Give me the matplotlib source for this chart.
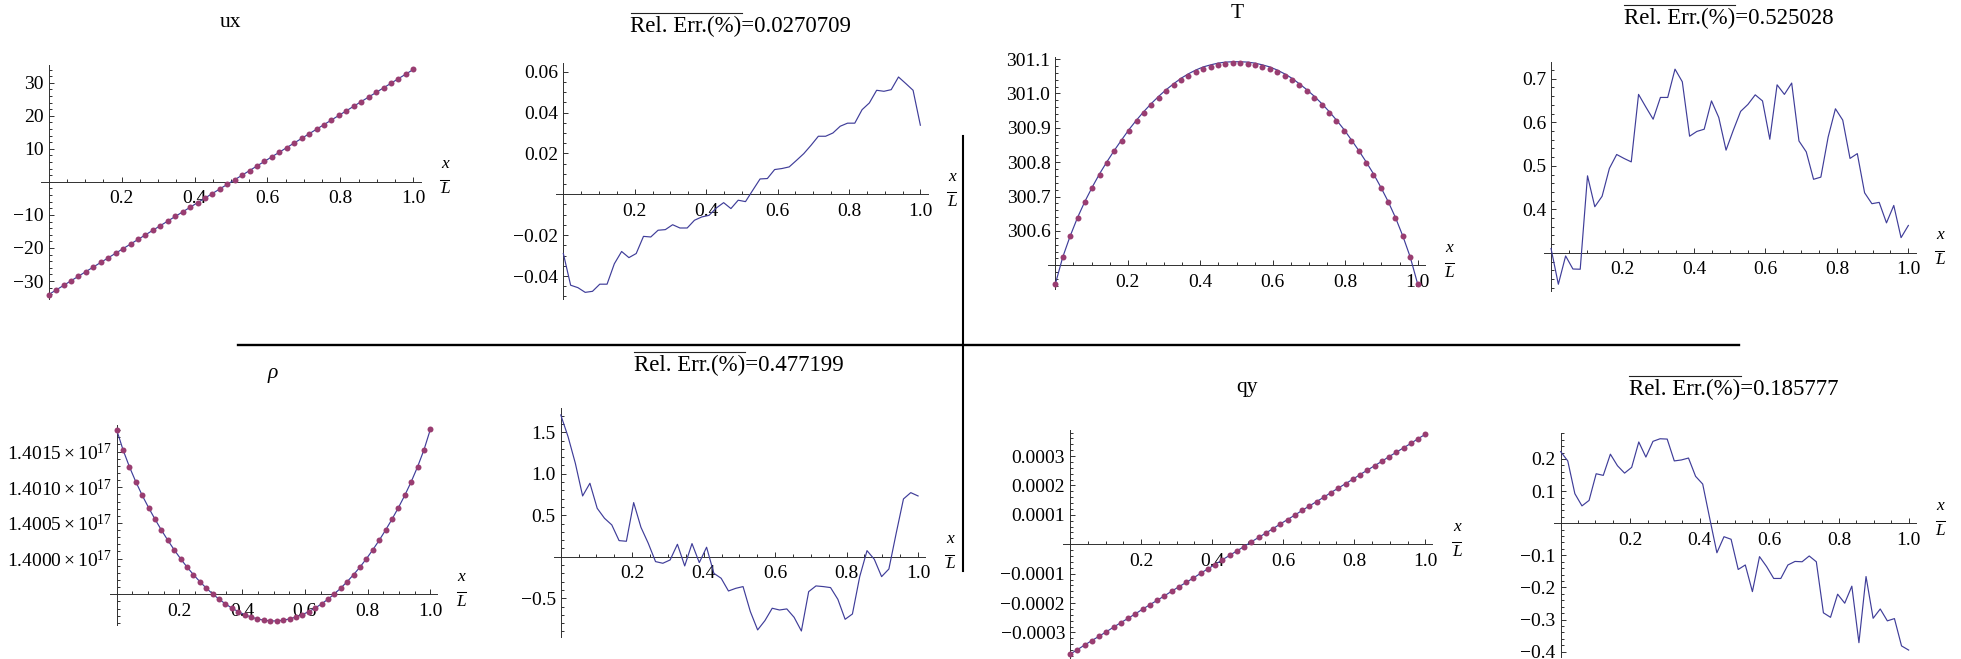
import numpy as np
import matplotlib
matplotlib.use("Agg")
import matplotlib.pyplot as plt
from matplotlib.ticker import FixedLocator, FixedFormatter, MultipleLocator
from matplotlib.lines import Line2D

plt.rcParams["font.family"] = ["Liberation Serif", "DejaVu Serif"]
plt.rcParams["mathtext.fontset"] = "custom"
plt.rcParams["mathtext.rm"] = "Liberation Serif"
plt.rcParams["mathtext.it"] = "Liberation Serif:italic"
plt.rcParams["mathtext.bf"] = "Liberation Serif:bold"

# ---------------------------------------------------------------- data
x_over_L = np.linspace(0.0, 1.0, 50)          # sampling positions x/L

ux_sim = [-34.10, -32.71, -31.32, -29.93, -28.54, -27.15, -25.76, -24.37, -22.98, -21.59,
          -20.20, -18.81, -17.42, -16.03, -14.64, -13.25, -11.86, -10.47, -9.08, -7.69,
          -6.30, -4.91, -3.52, -2.13, -0.74, 0.65, 2.04, 3.43, 4.82, 6.21,
          7.60, 8.99, 10.38, 11.77, 13.16, 14.55, 15.94, 17.33, 18.72, 20.11,
          21.50, 22.89, 24.28, 25.67, 27.06, 28.45, 29.84, 31.23, 32.62, 34.01]

ux_err = [-0.0290, -0.0445, -0.0457, -0.0480, -0.0475, -0.0440, -0.0440, -0.0340, -0.0280, -0.0310,
          -0.0290, -0.0206, -0.0209, -0.0176, -0.0173, -0.0149, -0.0165, -0.0165, -0.0127, -0.0111,
          -0.0103, -0.0067, -0.0041, -0.0070, -0.0029, -0.0036, 0.0020, 0.0075, 0.0077, 0.0121,
          0.0126, 0.0134, 0.0166, 0.0199, 0.0240, 0.0284, 0.0284, 0.0300, 0.0333, 0.0348,
          0.0348, 0.0414, 0.0447, 0.0509, 0.0504, 0.0512, 0.0574, 0.0542, 0.0509, 0.0338]

T_sim = [300.446, 300.523, 300.584, 300.637, 300.684, 300.726, 300.764, 300.799, 300.832, 300.863,
         300.892, 300.919, 300.944, 300.967, 300.988, 301.007, 301.024, 301.039, 301.052, 301.063,
         301.072, 301.078, 301.083, 301.086, 301.087, 301.087, 301.086, 301.083, 301.078, 301.072,
         301.063, 301.052, 301.039, 301.024, 301.007, 300.988, 300.967, 300.944, 300.919, 300.892,
         300.863, 300.832, 300.799, 300.764, 300.726, 300.684, 300.637, 300.584, 300.523, 300.446]

T_ref = [300.446, 300.524, 300.585, 300.639, 300.686, 300.728, 300.767, 300.802, 300.835, 300.866,
         300.896, 300.923, 300.948, 300.971, 300.992, 301.011, 301.028, 301.044, 301.057, 301.068,
         301.077, 301.083, 301.088, 301.091, 301.092, 301.092, 301.091, 301.088, 301.083, 301.077,
         301.068, 301.057, 301.044, 301.028, 301.011, 300.992, 300.971, 300.948, 300.923, 300.896,
         300.866, 300.835, 300.802, 300.767, 300.728, 300.686, 300.639, 300.585, 300.524, 300.446]

T_err = [0.310, 0.228, 0.293, 0.263, 0.2625, 0.477, 0.406, 0.430, 0.494, 0.526,
         0.517, 0.509, 0.664, 0.635, 0.607, 0.657, 0.657, 0.722, 0.693, 0.568,
         0.579, 0.584, 0.649, 0.611, 0.536, 0.582, 0.625, 0.641, 0.663, 0.649,
         0.561, 0.686, 0.664, 0.690, 0.557, 0.532, 0.469, 0.474, 0.566, 0.631,
         0.605, 0.517, 0.528, 0.438, 0.413, 0.416, 0.369, 0.409, 0.335, 0.363]

# density in units of 1e17
rho_sim = [1.401804, 1.401523, 1.401285, 1.401075, 1.400885, 1.400712, 1.400550, 1.400398, 1.400255, 1.400121,
           1.399996, 1.399880, 1.399774, 1.399676, 1.399586, 1.399504, 1.399430, 1.399364, 1.399306, 1.399256,
           1.399214, 1.399180, 1.399154, 1.399136, 1.399126, 1.399126, 1.399136, 1.399154, 1.399180, 1.399214,
           1.399256, 1.399306, 1.399364, 1.399430, 1.399504, 1.399586, 1.399676, 1.399774, 1.399880, 1.399996,
           1.400121, 1.400255, 1.400398, 1.400550, 1.400712, 1.400885, 1.401075, 1.401285, 1.401523, 1.401810]

rho_err = [1.709, 1.448, 1.127, 0.733, 0.886, 0.584, 0.464, 0.384, 0.195, 0.187,
           0.653, 0.355, 0.163, -0.058, -0.078, -0.038, 0.151, -0.110, 0.159, -0.070,
           0.115, -0.199, -0.259, -0.412, -0.380, -0.359, -0.660, -0.881, -0.769, -0.620,
           -0.641, -0.628, -0.729, -0.894, -0.420, -0.351, -0.359, -0.371, -0.512, -0.753,
           -0.689, -0.239, 0.074, -0.030, -0.239, -0.147, 0.283, 0.697, 0.773, 0.733]

qy_sim = np.array([-3.74, -3.59, -3.43, -3.28, -3.13, -2.98, -2.82, -2.67, -2.52, -2.37,
                   -2.21, -2.06, -1.91, -1.76, -1.60, -1.45, -1.30, -1.15, -0.99, -0.84,
                   -0.69, -0.53, -0.38, -0.23, -0.08, 0.08, 0.23, 0.38, 0.53, 0.69,
                   0.84, 0.99, 1.15, 1.30, 1.45, 1.60, 1.76, 1.91, 2.06, 2.21,
                   2.37, 2.52, 2.67, 2.82, 2.98, 3.13, 3.28, 3.43, 3.59, 3.74]) * 1e-4

qy_err = [0.223, 0.194, 0.092, 0.054, 0.071, 0.154, 0.149, 0.215, 0.179, 0.156,
          0.174, 0.253, 0.206, 0.255, 0.263, 0.262, 0.194, 0.197, 0.203, 0.146,
          0.122, 0.014, -0.092, -0.042, -0.050, -0.144, -0.130, -0.213, -0.104, -0.135,
          -0.172, -0.172, -0.130, -0.119, -0.120, -0.102, -0.120, -0.279, -0.293, -0.221,
          -0.249, -0.196, -0.372, -0.166, -0.296, -0.267, -0.304, -0.297, -0.382, -0.395]

mean_rel_err = ["0.0270709", "0.525028", "0.477199", "0.185777"]

x_tick_vals = [0.2, 0.4, 0.6, 0.8, 1.0]
x_tick_labels = ["0.2", "0.4", "0.6", "0.8", "1.0"]

MINUS = "\u2212"
ux_ticks = [-30, -20, -10, 10, 20, 30]
ux_labels = [MINUS + "30", MINUS + "20", MINUS + "10", "10", "20", "30"]
uxe_ticks = [-0.04, -0.02, 0.02, 0.04, 0.06]
uxe_labels = [MINUS + "0.04", MINUS + "0.02", "0.02", "0.04", "0.06"]
T_ticks = [300.6, 300.7, 300.8, 300.9, 301.0, 301.1]
T_labels = ["300.6", "300.7", "300.8", "300.9", "301.0", "301.1"]
Te_ticks = [0.4, 0.5, 0.6, 0.7]
Te_labels = ["0.4", "0.5", "0.6", "0.7"]
rho_ticks = [1.4000, 1.4005, 1.4010, 1.4015]
rho_labels = [r"$1.4000\times10^{17}$", r"$1.4005\times10^{17}$",
              r"$1.4010\times10^{17}$", r"$1.4015\times10^{17}$"]
rhoe_ticks = [-0.5, 0.5, 1.0, 1.5]
rhoe_labels = [MINUS + "0.5", "0.5", "1.0", "1.5"]
qy_ticks = [-0.0003, -0.0002, -0.0001, 0.0001, 0.0002, 0.0003]
qy_labels = [MINUS + "0.0003", MINUS + "0.0002", MINUS + "0.0001", "0.0001", "0.0002", "0.0003"]
qye_ticks = [-0.4, -0.3, -0.2, -0.1, 0.1, 0.2]
qye_labels = [MINUS + "0.4", MINUS + "0.3", MINUS + "0.2", MINUS + "0.1", "0.1", "0.2"]

# ---------------------------------------------------------------- figure
W, H = 1961, 659
fig = plt.figure(figsize=(W / 100, H / 100), dpi=100)
fig.patch.set_facecolor("white")

LINE_C = "#3f3d99"
DOT_C = "#993d71"
AXIS_C = "#303030"
TICK_FS = 14


def fx(px):
    return px / W


def fy(py):
    return 1 - py / H


def panel(rect, ylim, y0, yticks, ylabels, yminor):
    left, top, width, height = rect
    ax = fig.add_axes([fx(left), fy(top + height), width / W, height / H])
    ax.set_xlim(-0.02, 1.02)
    ax.set_ylim(*ylim)
    ax.patch.set_visible(False)
    ax.spines["top"].set_visible(False)
    ax.spines["right"].set_visible(False)
    ax.spines["left"].set_position(("data", 0.0))
    ax.spines["bottom"].set_position(("data", y0))
    for s in ("left", "bottom"):
        ax.spines[s].set_color(AXIS_C)
        ax.spines[s].set_linewidth(0.7)
    ax.xaxis.set_major_locator(FixedLocator(x_tick_vals))
    ax.xaxis.set_major_formatter(FixedFormatter(x_tick_labels))
    ax.xaxis.set_minor_locator(MultipleLocator(0.05))
    ax.yaxis.set_major_locator(FixedLocator(yticks))
    ax.yaxis.set_major_formatter(FixedFormatter(ylabels))
    ax.yaxis.set_minor_locator(MultipleLocator(yminor))
    ax.tick_params(which="both", direction="in", color=AXIS_C, width=0.7)
    ax.tick_params(which="major", length=3.4)
    ax.tick_params(which="minor", length=2.0)
    ax.tick_params(axis="x", which="major", labelsize=TICK_FS, pad=6)
    ax.tick_params(axis="y", which="major", labelsize=TICK_FS, pad=3.6)

    # x/L fraction at the right end of the horizontal axis
    axis_right = left + width
    axis_y = top + (ylim[1] - y0) / (ylim[1] - ylim[0]) * height
    cx = axis_right + 24.4
    bar_y = axis_y - 2
    fig.text(fx(cx), fy(bar_y - 11.7), "x", ha="center", va="baseline",
             fontsize=12.5, style="italic")
    fig.text(fx(cx), fy(bar_y + 13.6), "L", ha="center", va="baseline",
             fontsize=12.5, style="italic")
    fig.add_artist(Line2D([fx(cx - 4.5), fx(cx + 4.5)], [fy(bar_y), fy(bar_y)],
                          transform=fig.transFigure, color="black", lw=0.75))
    return ax


def curve_with_dots(ax, ref, sim):
    ax.plot(x_over_L, ref, color=LINE_C, lw=0.85, zorder=3, clip_on=False)
    ax.plot(x_over_L, sim, "o", ms=4.3, color=DOT_C, mec="none", zorder=4, clip_on=False)


def error_curve(ax, err):
    ax.plot(x_over_L, err, color=LINE_C, lw=0.85, zorder=3, clip_on=False)


# top row
ax1 = panel((41.4, 65.0, 379.2, 234.1), (-35.462, 35.362), 0.0, ux_ticks, ux_labels, 2)
curve_with_dots(ax1, ux_sim, ux_sim)

ax2 = panel((556.2, 63.3, 371.3, 236.0), (-0.0514, 0.0641), 0.0, uxe_ticks, uxe_labels, 0.005)
error_curve(ax2, ux_err)

ax3 = panel((1048.1, 56.6, 376.8, 232.5), (300.431, 301.107), 300.5, T_ticks, T_labels, 0.02)
curve_with_dots(ax3, T_ref, T_sim)

ax4 = panel((1543.9, 62.3, 371.6, 228.7), (0.2125, 0.7377), 0.3, Te_ticks, Te_labels, 0.02)
error_curve(ax4, T_err)

# bottom row
ax5 = panel((110.4, 425.2, 326.2, 200.0), (1.399066, 1.40187), 1.3995, rho_ticks, rho_labels, 0.0001)
curve_with_dots(ax5, rho_sim, rho_sim)

ax6 = panel((553.6, 408.3, 371.6, 229.0), (-0.97, 1.789), 0.0, rhoe_ticks, rhoe_labels, 0.1)
error_curve(ax6, rho_err)

ax7 = panel((1062.9, 429.9, 369.5, 228.7), (-0.000389, 0.000389), 0.0, qy_ticks, qy_labels, 0.00002)
curve_with_dots(ax7, qy_sim, qy_sim)

ax8 = panel((1553.7, 433.3, 361.9, 223.2), (-0.415, 0.28), 0.0, qye_ticks, qye_labels, 0.02)
error_curve(ax8, qy_err)

# titles
TITLE_FS = 15.5
fig.text(fx(231), fy(26.7), "ux", ha="center", va="baseline", fontsize=TITLE_FS)
fig.text(fx(1236.7), fy(18.3), "T", ha="center", va="baseline", fontsize=TITLE_FS)
fig.text(fx(273), fy(378.3), "\u03c1", ha="center", va="baseline", fontsize=TITLE_FS, style="italic")
fig.text(fx(1246.7), fy(391.7), "qy", ha="center", va="baseline", fontsize=TITLE_FS)

# mean relative error titles, with an overline over the quantity name
ERR_FS = 16.5
ERR_NAME = "Rel. Err.(%)"
renderer = fig.canvas.get_renderer()
probe = fig.text(0, 0, ERR_NAME, fontsize=ERR_FS)
name_w = probe.get_window_extent(renderer).width
probe.remove()
for (cx, by), val in zip([(741, 31.7), (1729, 24.0), (739, 370.7), (1734, 395.0)], mean_rel_err):
    t = fig.text(fx(cx), fy(by), ERR_NAME + "=" + val, ha="center", va="baseline", fontsize=ERR_FS)
    x0 = t.get_window_extent(renderer).x0
    bar_y = by - 18.6
    fig.add_artist(Line2D([x0 / W, (x0 + name_w) / W], [fy(bar_y), fy(bar_y)],
                          transform=fig.transFigure, color="#222222", lw=0.8))

# separating cross
fig.add_artist(Line2D([fx(237.6), fx(1738.6)], [fy(345), fy(345)],
                      transform=fig.transFigure, color="black", lw=1.7))
fig.add_artist(Line2D([fx(962.8), fx(962.8)], [fy(135.5), fy(570.7)],
                      transform=fig.transFigure, color="black", lw=1.5))

fig.savefig("out.png", dpi=100, facecolor="white")
